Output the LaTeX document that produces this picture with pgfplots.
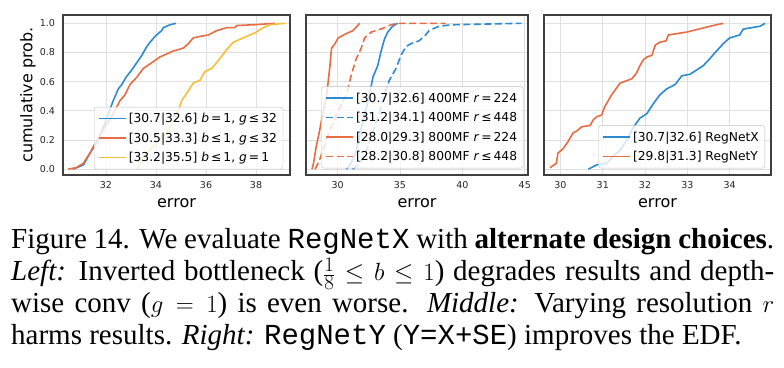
\documentclass[border=0pt]{standalone}
\usepackage{pgfplots}
\pgfplotsset{compat=1.18}
\usepackage{fontspec}
\setmainfont{Liberation Serif}
\setmonofont{Liberation Mono}
\newfontfamily\dejavu{DejaVu Sans}
\definecolor{cblue}{RGB}{44,138,210}
\definecolor{corange}{RGB}{232,108,67}
\definecolor{cyellow}{RGB}{246,190,58}
\pgfplotsset{
  edf/.style={
    scale only axis, height=160pt,
    ymin=-0.04, ymax=1.057,
    ytick={0,0.2,0.4,0.6,0.8,1.0},
    y tick label style={/pgf/number format/.cd,fixed,fixed zerofill,precision=1,/tikz/.cd},
    grid=major,
    major grid style={line width=0.8pt, color=black!12},
    axis line style={line width=1.3pt, black!75},
    major tick length=0pt,
    /pgf/number format/assume math mode=true,
    tick label style={font=\dejavu\fontsize{9.5}{11}\selectfont, text=black!85},
    xticklabel style={yshift=-3pt},
    yticklabel style={xshift=-4.5pt},
    xlabel={error},
    xlabel style={font=\dejavu\fontsize{16}{18}\selectfont, at={(axis description cs:0.5,-0.175)}, anchor=center},
    ylabel style={font=\dejavu\fontsize{16}{18}\selectfont, at={(axis description cs:-0.154,0.5)}, anchor=center},
    legend cell align=left,
    legend style={font=\dejavu\fontsize{12.3}{14}\selectfont, fill=white, fill opacity=0.8, draw opacity=1, text opacity=1, draw=black!25, rounded corners=2.5pt, anchor=south east, row sep=4.6pt, inner xsep=4pt, inner ysep=4pt},
    legend image code/.code={\draw[mark repeat=2,mark phase=2,line width=1.6pt,#1] (0pt,0pt) -- (27pt,0pt);},
    every axis plot/.append style={line width=1.6pt, line join=round, mark=none},
  },
  dsh/.style={dash pattern=on 7pt off 3.5pt},
}
\begin{document}
\begin{tikzpicture}
\useasboundingbox (0,0) rectangle (784pt,367pt);
% ---------------- Left panel
\begin{axis}[edf, width=227pt, at={(63pt,192pt)}, anchor=south west,
  xmin=30.28, xmax=39.36, xtick={32,34,36,38},
  ylabel={cumulative prob.},
  legend style={at={(0.970,0.036)}}]
\addplot[cblue] table {
30.67 0.00
30.9 0.015
31.1 0.03
31.36 0.11
31.63 0.18
31.9 0.29
32.09 0.38
32.29 0.47
32.49 0.55
32.63 0.58
32.8 0.63
33.03 0.68
33.23 0.73
33.43 0.78
33.63 0.84
33.76 0.87
33.96 0.91
34.09 0.93
34.23 0.95
34.29 0.97
34.56 0.99
34.8 1.00
};
\addlegendentry{[30.7|32.6] \textit{b}\,=\,1, \textit{g}\,≤\,32}
\addplot[corange] table {
30.49 0.00
30.8 0.01
31.09 0.04
31.36 0.11
31.63 0.20
31.89 0.27
32.23 0.36
32.56 0.47
32.76 0.51
32.96 0.58
33.23 0.63
33.49 0.69
33.83 0.73
34.16 0.77
34.43 0.79
34.69 0.81
35.09 0.83
35.29 0.86
35.49 0.90
35.76 0.91
36.09 0.92
36.43 0.95
36.83 0.97
37.16 0.97
37.23 0.985
37.9 0.99
38.76 1.00
};
\addlegendentry{[30.5|33.3] \textit{b}\,≤\,1, \textit{g}\,≤\,32}
\addplot[cyellow] table {
33.23 0.00
33.36 0.04
33.63 0.11
34.03 0.18
34.43 0.25
34.83 0.37
35.03 0.47
35.23 0.52
35.49 0.59
35.76 0.61
35.96 0.67
36.23 0.69
36.56 0.76
36.83 0.82
37.09 0.87
37.49 0.90
37.96 0.935
38.29 0.97
38.56 0.99
39.16 1.00
};
\addlegendentry{[33.2|35.5] \textit{b}\,≤\,1, \textit{g}\,=\,1}
\end{axis}
% ---------------- Middle panel
\begin{axis}[edf, width=222pt, at={(306pt,192pt)}, anchor=south west,
  xmin=27.47, xmax=45.26, xtick={30,35,40,45}, yticklabels={},
  legend style={at={(0.979,0.042)}}]
\addplot[cblue] table {
30.7 0.00
31.0 0.03
31.4 0.10
31.7 0.20
31.95 0.30
32.25 0.40
32.56 0.51
32.83 0.63
33.22 0.71
33.49 0.81
33.75 0.89
34.02 0.94
34.41 0.98
34.81 1.00
};
\addlegendentry{[30.7|32.6] 400MF \textit{r}\,=\,224}
\addplot[cblue, dsh] table {
31.2 0.00
31.7 0.03
32.2 0.10
32.6 0.20
33.0 0.30
33.4 0.40
33.75 0.51
34.15 0.61
34.68 0.69
35.08 0.78
35.48 0.84
35.87 0.86
36.53 0.88
37.06 0.92
37.33 0.95
38.12 0.98
39.17 0.99
44.73 1.00
};
\addlegendentry{[31.2|34.1] 400MF \textit{r}\,≤\,448}
\addplot[corange] table {
27.95 0.00
28.05 0.03
28.3 0.16
28.55 0.26
28.83 0.39
29.13 0.51
29.39 0.71
29.52 0.83
29.79 0.86
30.05 0.90
30.71 0.93
31.24 0.95
31.77 1.00
};
\addlegendentry{[28.0|29.3] 800MF \textit{r}\,=\,224}
\addplot[corange, dsh] table {
28.2 0.00
28.5 0.05
28.9 0.15
29.3 0.25
29.7 0.33
30.1 0.41
30.45 0.47
30.71 0.51
31.11 0.65
31.51 0.76
31.9 0.83
32.17 0.90
32.7 0.94
33.62 0.965
34.29 0.99
34.81 1.00
38.65 1.00
};
\addlegendentry{[28.2|30.8] 800MF \textit{r}\,≤\,448}
\end{axis}
% ---------------- Right panel
\begin{axis}[edf, width=227pt, at={(544pt,192pt)}, anchor=south west,
  xmin=29.61, xmax=34.98, xtick={30,31,32,33,34}, yticklabels={},
  legend style={at={(0.974,0.042)}}]
\addplot[cblue] table {
30.66 0.00
30.86 0.03
31.09 0.04
31.25 0.09
31.41 0.13
31.57 0.20
31.73 0.29
31.88 0.35
32.04 0.38
32.2 0.45
32.35 0.51
32.51 0.55
32.71 0.58
32.79 0.61
32.87 0.64
33.06 0.65
33.22 0.68
33.38 0.71
33.54 0.76
33.69 0.81
33.85 0.86
34.0 0.90
34.24 0.92
34.32 0.96
34.72 0.98
34.84 1.00
};
\addlegendentry{[30.7|32.6] RegNetX}
\addplot[corange] table {
29.75 0.01
29.9 0.04
29.94 0.11
30.06 0.14
30.18 0.19
30.3 0.25
30.38 0.26
30.5 0.29
30.7 0.30
30.78 0.34
30.86 0.36
30.97 0.37
31.05 0.43
31.13 0.47
31.21 0.51
31.41 0.59
31.69 0.62
31.8 0.66
31.88 0.71
31.96 0.75
32.05 0.77
32.16 0.78
32.24 0.85
32.35 0.87
32.5 0.88
32.55 0.92
32.99 0.94
33.54 0.98
33.85 1.00
};
\addlegendentry{[29.8|31.3] RegNetY}
\end{axis}
% ---------------- Caption
\node[anchor=base west, inner sep=0pt, text width=763pt, align=justify,
  font=\fontsize{29}{32}\selectfont] at (11pt,118pt)
{Figure 14. We evaluate \texttt{RegNetX} with \textbf{alternate design choices}.\linebreak
\textit{Left:} Inverted bottleneck ($\frac{1}{8}\leq b\leq 1$) degrades results and depth-\linebreak
wise conv ($g=1$) is even worse. \textit{Middle:} Varying resolution $r$\linebreak
harms results. \textit{Right:} \texttt{RegNetY} (\texttt{Y=X+SE}) improves the EDF.};
\end{tikzpicture}
\end{document}
